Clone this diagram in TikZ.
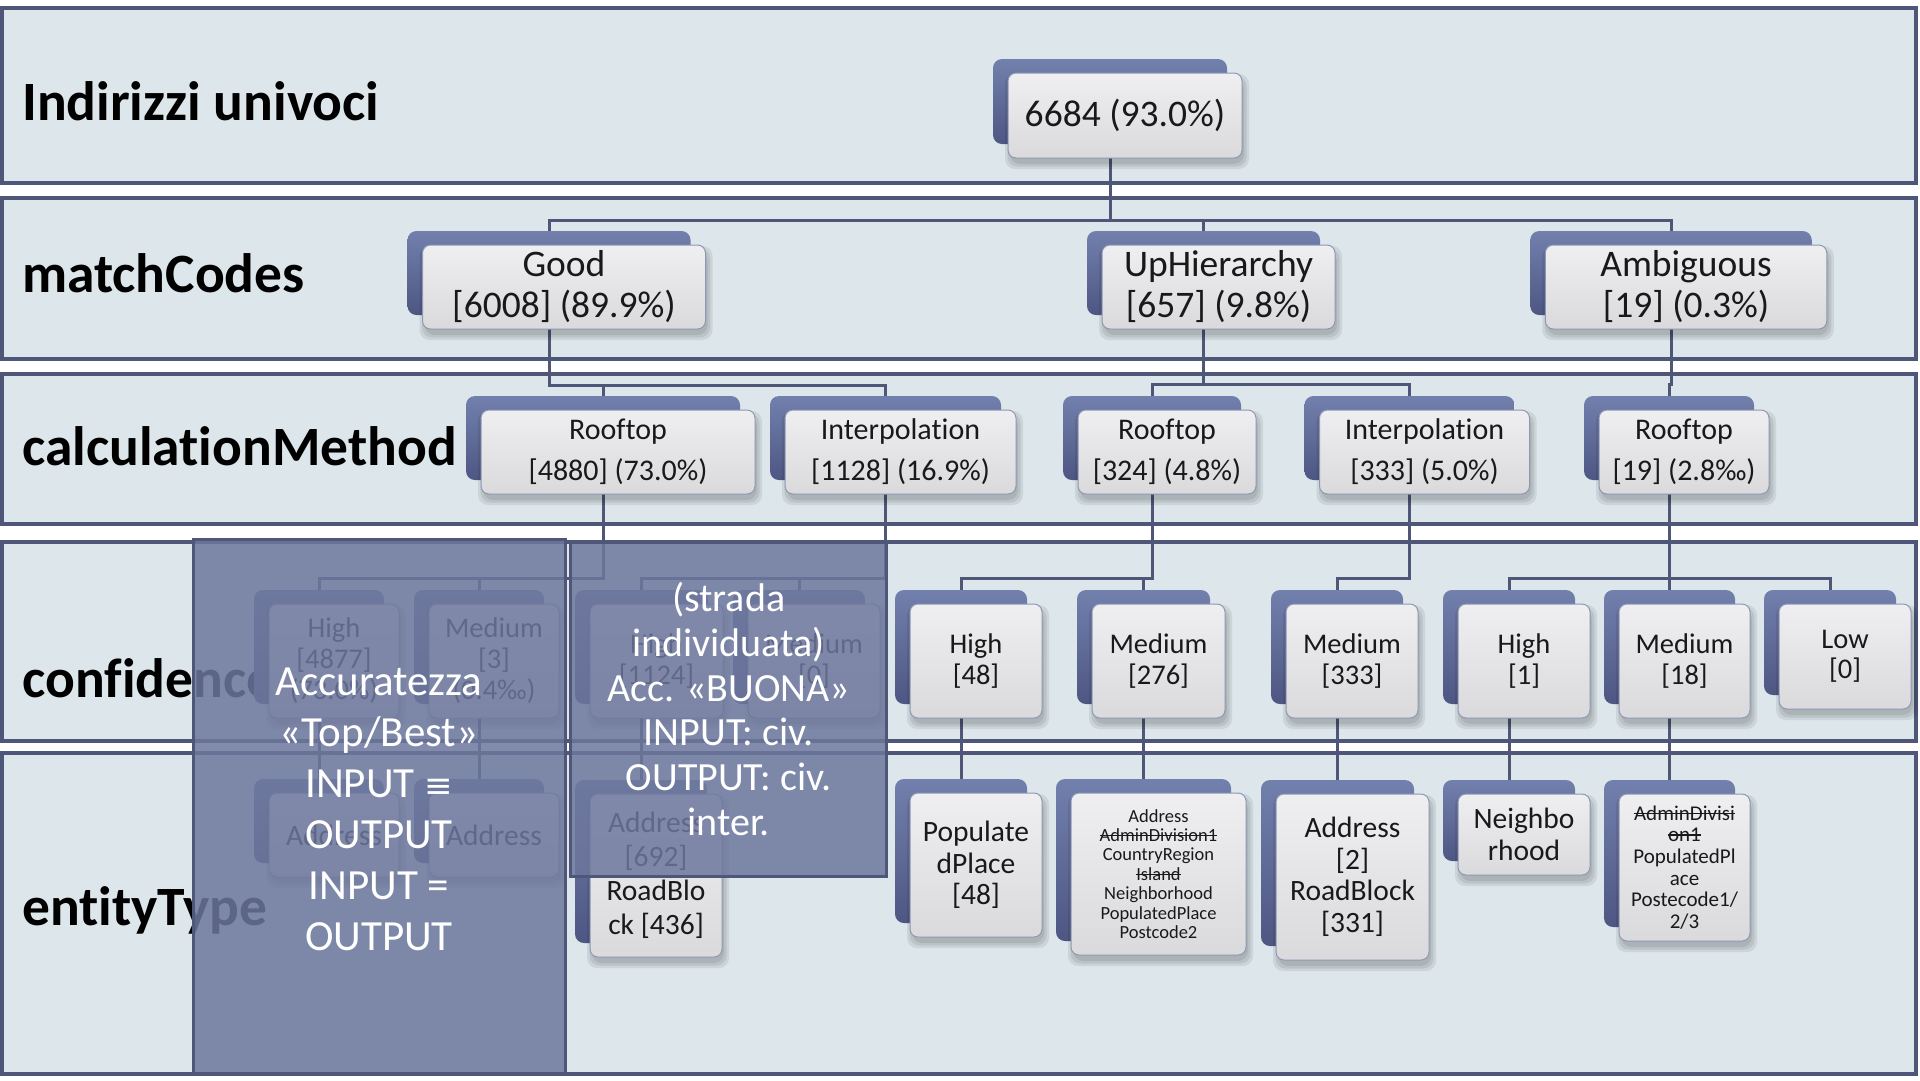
\documentclass[tikz,border=0pt]{standalone}
\usepackage{fontspec}
\setmainfont{Carlito}[Ligatures=NoCommon]
\newfontfamily\symfont{DejaVu Sans}
\newsavebox\strkbox
\newcommand\strk[1]{\sbox\strkbox{#1}\rlap{\rule[0.28em]{\wd\strkbox}{1.6pt}}\usebox\strkbox}
\definecolor{bandfill}{HTML}{DDE7EB}
\definecolor{bandline}{HTML}{4F5779}
\definecolor{connc}{HTML}{4F5779}
\definecolor{backtop}{HTML}{7280AD}
\definecolor{backbot}{HTML}{4E5682}
\definecolor{fronttop}{HTML}{EFEFF1}
\definecolor{frontbot}{HTML}{DADADD}
\definecolor{frontline}{HTML}{8E97B4}
\definecolor{ovl}{RGB}{109,119,157}
\pgfdeclarelayer{bandlayer}
\pgfdeclarelayer{connlayer}
\pgfsetlayers{bandlayer,connlayer,main}
\newcommand\lvlone{\fontsize{37.5}{41}\selectfont}
\newcommand\lvlthree{\fontsize{30}{41}\selectfont}
\newcommand\lvlfour{\fontsize{28.5}{30.5}\selectfont}
\newcommand\lvlfourb{\fontsize{28.5}{31}\selectfont}
\newcommand\lvlfive{\fontsize{29.5}{31.5}\selectfont}
\newcommand\lvlfivec{\fontsize{29.5}{34}\selectfont}
\newcommand\lvlsmall{\fontsize{18.5}{19.4}\selectfont}
\newcommand\lvladmin{\fontsize{21}{21.7}\selectfont}
\newcommand\ovlAfont{\fontsize{43}{51}\selectfont}
\newcommand\ovlBfont{\fontsize{40}{44.7}\selectfont}
\newcommand\card[7]{%
  \node[backcard, minimum width=#4, minimum height=#5] (#1) at ({#2-15},{#3-14}) {};
  \foreach \s in {0,2.5,5}{\fill[black, opacity=0.08, rounded corners=10] ({#2-#4/2+2-\s},{#3-#5/2+6-\s}) rectangle ({#2+#4/2+2+\s},{#3+#5/2+6+\s});}
  \node[frontcard, minimum width=#4, minimum height=#5, font=#6] (#1f) at (#2,#3) {#7};
}
\newcommand\link[3]{\draw[conn] (#1.center) -- (#1.center |- 0,#3) -| (#2.center);}
\begin{document}
\begin{tikzpicture}[x=1pt,y=-1pt,
  backcard/.style={rounded corners=9, draw=none, top color=backtop, bottom color=backbot, inner sep=0},
  frontcard/.style={rounded corners=8, draw=frontline, line width=1, top color=fronttop, bottom color=frontbot, align=center, inner sep=0, text=black!90},
  conn/.style={draw=connc, line width=3},
  band/.style={fill=bandfill, draw=bandline, line width=4},
  lbl/.style={anchor=base west, font=\fontsize{55.5}{60}\selectfont\bfseries, inner sep=0},
  ovlbox/.style={fill=ovl, fill opacity=0.85, draw=bandline, line width=3},
  ovltext/.style={text=white, align=center, inner sep=0},
]
\useasboundingbox (0,0) rectangle (1920,1080);
\begin{pgfonlayer}{bandlayer}
\fill[white] (0,0) rectangle (1920,1080);
\draw[band] (2,8) rectangle (1916,183);
\draw[band] (2,198) rectangle (1916,359);
\draw[band] (2,374) rectangle (1916,524);
\draw[band] (2,542) rectangle (1916,741);
\draw[band] (2,753) rectangle (1916,1074);
\end{pgfonlayer}

% row labels
\node[lbl] (t1) at (22,120.5) {Indirizzi univoci};
\node[lbl] (t2) at (22,292) {matchCodes};
\node[lbl] (t3) at (22,465) {calculationMethod};
\node[lbl] (t4) at (22,697) {confidence};
\node[lbl] (t5) at (22,925) {entityType};

% level 1
\card{root}{1125}{115.5}{234}{85}{\lvlone}{6684 (93.0\%)}
% level 2
\card{good}{564}{287}{283}{84}{\lvlone}{Good\\{}[6008] (89.9\%)}
\card{up}{1218.5}{287}{233}{84}{\lvlone}{UpHierarchy\\{}[657] (9.8\%)}
\card{amb}{1686}{287}{281.5}{84}{\lvlone}{Ambiguous\\{}[19] (0.3\%)}
% level 3
\card{rg}{618}{452}{274}{84}{\lvlthree}{Rooftop\\{}[4880] (73.0\%)}
\card{ig}{900.5}{452}{231}{84}{\lvlthree}{Interpolation\\{}[1128] (16.9\%)}
\card{ru}{1167}{452}{178}{84}{\lvlthree}{Rooftop\\{}[324] (4.8\%)}
\card{iu}{1424.5}{452}{210}{84}{\lvlthree}{Interpolation\\{}[333] (5.0\%)}
\card{ra}{1684}{452}{170}{84}{\lvlthree}{Rooftop\\{}[19] (2.8‰)}
% level 4
\card{h4877}{334}{661}{130}{114}{\lvlfourb}{High\\{}[4877]\\(73.0\%)}
\card{m3}{494}{661}{130}{114}{\lvlfourb}{Medium\\{}[3]\\(0.4‰)}
\card{h1124}{656.5}{661}{133}{114}{\lvlfour}{High\\{}[1124]}
\card{m0}{814}{661}{132}{114}{\lvlfour}{Medium\\{}[0]}
\card{h48}{976}{661}{132}{114}{\lvlfour}{High\\{}[48]}
\card{m276}{1158.5}{661}{133}{114}{\lvlfour}{Medium\\{}[276]}
\card{m333}{1352}{661}{132}{114}{\lvlfour}{Medium\\{}[333]}
\card{h1}{1524}{661}{132}{114}{\lvlfour}{High\\{}[1]}
\card{m18}{1684.5}{661}{131}{114}{\lvlfour}{Medium\\{}[18]}
\card{l0}{1845}{656.5}{132}{105}{\lvlfour}{Low\\{}[0]}
% level 5
\card{a1}{334}{835}{130}{84}{\lvlfive}{Address}
\card{a2}{494}{835}{130}{84}{\lvlfive}{Address}
\card{a692}{656}{875.5}{132}{163}{\lvlfivec}{Address\\{}[692]\\RoadBlo\\ck [436]}
\card{pp}{976}{865}{132}{144}{\lvlfive}{Populate\\dPlace\\{}[48]}
\card{al}{1158.5}{874}{175}{162}{\lvlsmall}{Address\\\strk{AdminDivision1}\\CountryRegion\\\strk{Island}\\Neighborhood\\PopulatedPlace\\Postcode2}
\card{a2rb}{1352.5}{877}{153}{166}{\lvlfive}{Address\\{}[2]\\RoadBlock\\{}[331]}
\card{nb}{1524}{834.5}{132}{81}{\lvlfive}{Neighbo\\rhood}
\card{ad}{1684.5}{867.5}{131}{147}{\lvladmin}{\strk{AdminDivisi}\\\strk{on1}\\PopulatedPl\\ace\\Postecode1/\\2/3}

\begin{pgfonlayer}{connlayer}
\link{root}{good}{220} \link{root}{up}{220} \link{root}{amb}{220}
\link{good}{rg}{385} \link{good}{ig}{385}
\link{up}{ru}{384} \link{up}{iu}{384}
\link{amb}{ra}{384}
\link{rg}{h4877}{578} \link{rg}{m3}{578}
\link{ig}{h1124}{578} \link{ig}{m0}{578}
\link{ru}{h48}{578} \link{ru}{m276}{578}
\link{iu}{m333}{578}
\link{ra}{h1}{578} \link{ra}{m18}{578} \link{ra}{l0}{578}
\link{h4877}{a1}{760} \link{m3}{a2}{760} \link{h1124}{a692}{760}
\link{h48}{pp}{760} \link{m276}{al}{760} \link{m333}{a2rb}{760}
\link{h1}{nb}{760} \link{m18}{ad}{760}
\end{pgfonlayer}

% overlays
\draw[ovlbox] (193.5,539) rectangle (565,1073);
\draw[ovlbox] (570.7,542.5) rectangle (886.5,876);
\node[ovltext, font=\ovlAfont] (ovA) at (379,809) {Accuratezza\\«Top/Best»\\INPUT {\symfont\fontsize{34}{51}\selectfont ≡}\\OUTPUT\\INPUT =\\OUTPUT};
\node[ovltext, font=\ovlBfont] (ovB) at (728.7,709) {(strada\\individuata)\\Acc. «BUONA»\\INPUT: civ.\\OUTPUT: civ.\\inter.};
\end{tikzpicture}
\end{document}
